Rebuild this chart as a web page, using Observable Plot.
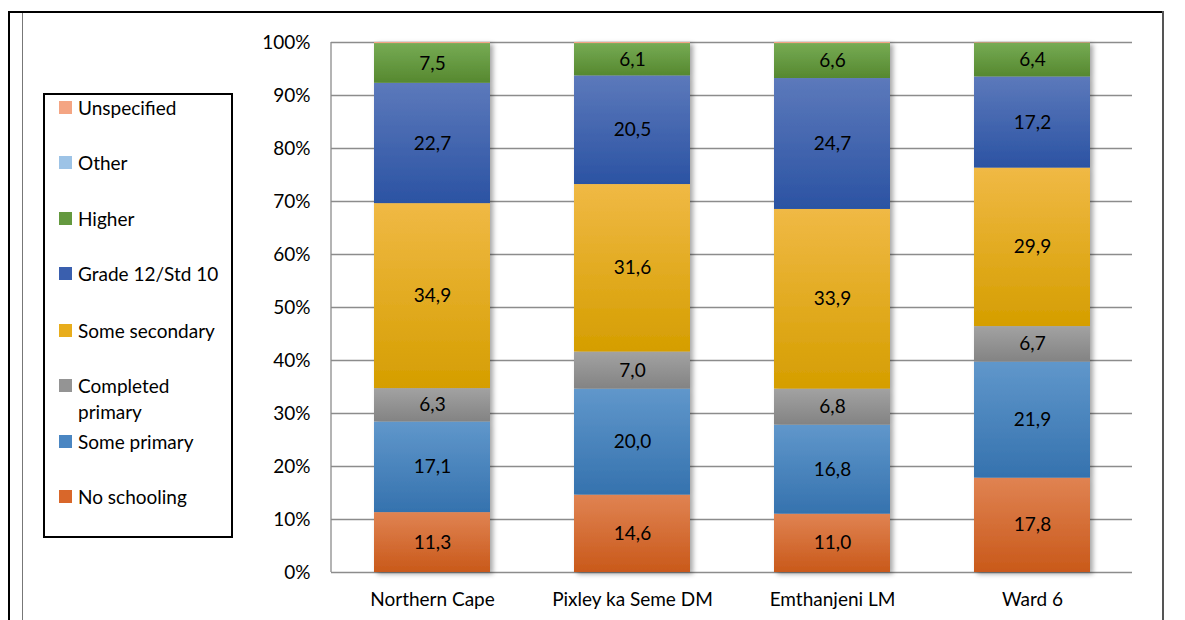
<!DOCTYPE html>
<html>
<head>
<meta charset="utf-8">
<script src="https://cdn.jsdelivr.net/npm/d3@7"></script>
<script src="https://cdn.jsdelivr.net/npm/@observablehq/plot@0.6"></script>
<style>
  html, body { margin: 0; padding: 0; background: #fff; }
  body { width: 1185px; height: 620px; position: relative; overflow: hidden; font-family: Lato, "Open Sans", sans-serif; }
  #chart { position: absolute; left: 0; top: 0; }
  .line { position: absolute; }
  #legend { position: absolute; left: 43px; top: 93px; width: 186px; height: 441px; border: 2px solid #000; }
  .item { position: absolute; left: 14px; font-size: 19px; line-height: 26px; color: #000; }
  .sw { position: absolute; left: 0; top: 6px; width: 13px; height: 13px; }
  .lbl { position: absolute; left: 19px; white-space: nowrap; }
</style>
</head>
<body>
<div class="line" style="left:8px;top:11px;width:1156px;height:2px;background:#000"></div>
<div class="line" style="left:8px;top:11px;width:2px;height:609px;background:#000"></div>
<div class="line" style="left:22px;top:13px;width:1px;height:607px;background:#777"></div>
<div class="line" style="left:1162px;top:11px;width:2px;height:609px;background:#555"></div>
<div id="chart"></div>
<div id="legend"></div>
<script>
// ---- data ----
const categories = ["Northern Cape", "Pixley ka Seme DM", "Emthanjeni LM", "Ward 6"];
const seriesNames = ["No schooling", "Some primary", "Completed primary", "Some secondary", "Grade 12/Std 10", "Higher", "Other", "Unspecified"];
const noSchooling      = [11.3, 14.6, 11.0, 17.8];
const somePrimary      = [17.1, 20.0, 16.8, 21.9];
const completedPrimary = [6.3, 7.0, 6.8, 6.7];
const someSecondary    = [34.9, 31.6, 33.9, 29.9];
const grade12          = [22.7, 20.5, 24.7, 17.2];
const higher           = [7.5, 6.1, 6.6, 6.4];
const other            = [0.0, 0.0, 0.0, 0.0];
const unspecified      = [0.2, 0.2, 0.2, 0.1];
const yTicks = [0, 10, 20, 30, 40, 50, 60, 70, 80, 90, 100];
const labelledSeries = ["No schooling", "Some primary", "Completed primary", "Some secondary", "Grade 12/Std 10", "Higher"];

// ---- styles ----
const gradStops = [
  ["#E08352", "#C9591A"],
  ["#6097CB", "#3572AE"],
  ["#A2A2A2", "#838383"],
  ["#F0B945", "#D59E00"],
  ["#5C79BB", "#2B53A3"],
  ["#76AB54", "#56882F"],
  ["#A9C8E8", "#8DB4DF"],
  ["#F5AC8E", "#F29B7B"]
];
const swatchColors = ["#D9672A", "#4A86C2", "#949494", "#E8AD1C", "#3A5FAE", "#64993F", "#9DC3E6", "#F4A583"];

const valuesBySeries = [noSchooling, somePrimary, completedPrimary, someSecondary, grade12, higher, other, unspecified];
const rows = [];
seriesNames.forEach((s, si) => {
  categories.forEach((c, ci) => {
    rows.push({cat: c, series: s, value: valuesBySeries[si][ci]});
  });
});
const fmt = v => d3.format(".1f")(v).replace(".", ",");

const leftLine = (index, scales) => {
  const g = d3.create("svg:g");
  const x0 = scales.x.range()[0];
  g.append("line")
    .attr("x1", x0).attr("x2", x0)
    .attr("y1", scales.y(0)).attr("y2", scales.y(100))
    .attr("stroke", "#8c8c8c").attr("stroke-width", 1.3);
  return g.node();
};

const plot = Plot.plot({
  width: 1185,
  height: 620,
  marginLeft: 331,
  marginRight: 53,
  marginTop: 42,
  marginBottom: 48,
  style: {fontFamily: "Lato, 'Open Sans', sans-serif", fontSize: "19px", color: "#000", background: "transparent"},
  x: {domain: categories, paddingInner: 0.42, paddingOuter: 0.21, label: null},
  y: {domain: [0, 100], label: null},
  color: {domain: seriesNames, range: seriesNames.map((s, i) => `url(#grad${i})`)},
  marks: [
    Plot.ruleY(yTicks, {stroke: "#8c8c8c", strokeWidth: 1.3}),
    leftLine,
    Plot.barY(rows, Plot.stackY({x: "cat", y: "value", fill: "series", z: "series", order: seriesNames, className: "bars"})),
    Plot.text(rows, Plot.stackY({
      x: "cat", y: "value", z: "series", order: seriesNames,
      text: d => labelledSeries.includes(d.series) ? fmt(d.value) : "",
      fill: "#000", fontSize: 19
    })),
    Plot.axisY(yTicks, {tickSize: 0, tickPadding: 21, tickFormat: d => d + "%", fontSize: 19}),
    Plot.axisX({tickSize: 0, tickPadding: 20, fontSize: 19})
  ]
});

const svg = d3.select(plot);
const defs = svg.insert("defs", ":first-child");
gradStops.forEach((st, i) => {
  const lg = defs.append("linearGradient").attr("id", `grad${i}`)
    .attr("x1", 0).attr("y1", 0).attr("x2", 0).attr("y2", 1);
  lg.append("stop").attr("offset", "0%").attr("stop-color", st[0]);
  lg.append("stop").attr("offset", "100%").attr("stop-color", st[1]);
});
const f = defs.append("filter").attr("id", "shadow")
  .attr("x", "-10%").attr("y", "-10%").attr("width", "130%").attr("height", "130%");
f.append("feDropShadow").attr("dx", 3).attr("dy", 2).attr("stdDeviation", 2.5)
  .attr("flood-color", "#000").attr("flood-opacity", 0.35);
svg.selectAll("g.bars").attr("filter", "url(#shadow)");
svg.selectAll("g[aria-label='bar']").attr("filter", "url(#shadow)");

document.getElementById("chart").appendChild(plot);

// ---- legend (HTML) ----
const legendTops = [0, 55, 111, 166, 223, 278, 334, 389];
const legend = document.getElementById("legend");
const legendOrder = seriesNames.map((s, i) => i).reverse();
legendOrder.forEach((si, k) => {
  const item = document.createElement("div");
  item.className = "item";
  item.style.top = legendTops[k] + "px";
  const sw = document.createElement("div");
  sw.className = "sw";
  sw.style.background = swatchColors[si];
  const lbl = document.createElement("div");
  lbl.className = "lbl";
  lbl.innerHTML = seriesNames[si] === "Completed primary" ? "Completed<br>primary" : seriesNames[si];
  item.appendChild(sw);
  item.appendChild(lbl);
  legend.appendChild(item);
});
</script>
</body>
</html>
